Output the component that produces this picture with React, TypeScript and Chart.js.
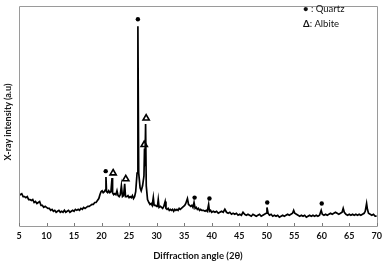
import React, { useEffect, useRef } from "react";
import { Chart, registerables } from "chart.js";

Chart.register(...registerables);

// 2θ angles (degrees)
const angles: number[] = [
  5.0, 5.25, 5.5, 5.75, 6.0, 6.25, 6.5, 6.75, 7.0, 7.25, 7.5, 7.75, 8.0, 8.25, 8.5, 8.75,
  9.0, 9.25, 9.5, 9.75, 10.0, 10.25, 10.5, 10.75, 11.0, 11.25, 11.5, 11.75, 12.0, 12.25, 12.5, 12.75,
  13.0, 13.25, 13.5, 13.75, 14.0, 14.25, 14.5, 14.75, 15.0, 15.25, 15.5, 15.75, 16.0, 16.25, 16.5, 16.75,
  17.0, 17.25, 17.5, 17.75, 18.0, 18.25, 18.5, 18.75, 19.0, 19.25, 19.5, 19.7, 19.9, 20.1, 20.3, 20.5,
  20.7, 20.8, 20.9, 21.1, 21.3, 21.5, 21.7, 21.9, 22.0, 22.2, 22.4, 22.6, 22.8, 23.0, 23.2, 23.4,
  23.6, 23.8, 24.0, 24.2, 24.35, 24.6, 24.8, 25.0, 25.2, 25.4, 25.6, 25.8, 26.0, 26.2, 26.45, 26.6,
  26.75, 27.0, 27.2, 27.45, 27.7, 27.8, 27.88, 28.0, 28.12, 28.35, 28.6, 28.8, 29.0, 29.2, 29.4, 29.55, 29.8,
  30.0, 30.15, 30.3, 30.45, 30.7, 30.9, 31.1, 31.3, 31.55, 31.7, 31.9, 32.1, 32.3, 32.5, 32.7, 32.9,
  33.1, 33.3, 33.5, 33.7, 33.9, 34.1, 34.3, 34.5, 34.7, 34.9, 35.1, 35.3, 35.6, 35.8, 36.0, 36.2,
  36.4, 36.6, 36.8, 37.0, 37.2, 37.4, 37.6, 37.8, 38.0, 38.2, 38.5, 38.8, 39.0, 39.2, 39.45, 39.6,
  39.8, 40.0, 40.3, 40.6, 40.9, 41.2, 41.5, 41.8, 42.1, 42.4, 42.7, 43.0, 43.3, 43.6, 43.9, 44.2,
  44.5, 44.8, 45.1, 45.4, 45.7, 46.0, 46.3, 46.6, 46.9, 47.2, 47.5, 47.8, 48.1, 48.4, 48.7, 49.0,
  49.3, 49.6, 49.9, 50.05, 50.25, 50.5, 50.8, 51.1, 51.4, 51.7, 52.0, 52.3, 52.6, 52.9, 53.2, 53.5,
  53.8, 54.1, 54.4, 54.7, 54.9, 55.1, 55.4, 55.7, 56.0, 56.3, 56.6, 56.9, 57.2, 57.5, 57.8, 58.1,
  58.4, 58.7, 59.0, 59.3, 59.6, 59.9, 60.1, 60.4, 60.7, 61.0, 61.3, 61.6, 61.9, 62.2, 62.5, 62.8,
  63.1, 63.4, 63.7, 63.9, 64.1, 64.4, 64.7, 65.0, 65.3, 65.6, 65.9, 66.2, 66.5, 66.8, 67.1, 67.4,
  67.7, 67.9, 68.15, 68.3, 68.5, 68.8, 69.1, 69.4, 69.7, 70.0,
];

// X-ray intensity (a.u.)
const intensity: number[] = [
  34, 33, 34, 31, 31, 30, 31, 28, 28, 27, 28, 25, 26, 24, 25, 26,
  22, 22, 20, 21, 20, 19, 19, 17, 18, 16, 17, 15, 16, 17, 15, 16,
  15, 17, 15, 16, 17, 15, 16, 17, 16, 18, 17, 18, 17, 19, 18, 20,
  19, 20, 21, 21, 22, 23, 23, 25, 25, 27, 29, 33, 36, 37, 35, 36,
  38, 51, 36, 35, 37, 35, 36, 50, 35, 33, 34, 33, 37, 32, 31, 33,
  42, 31, 32, 44, 31, 31, 32, 30, 31, 30, 32, 29, 31, 36, 55, 205,
  55, 40, 37, 42, 52, 80, 62, 105, 42, 28, 25, 23, 24, 22, 30, 22, 22,
  21, 21, 28, 20, 21, 20, 19, 21, 26, 19, 18, 19, 17, 18, 17, 18,
  16, 18, 17, 18, 17, 19, 18, 19, 20, 21, 22, 24, 29, 23, 22, 21,
  22, 20, 25, 19, 20, 18, 19, 17, 18, 17, 17, 16, 17, 16, 23, 16,
  17, 15, 16, 15, 16, 14, 15, 16, 15, 18, 15, 14, 15, 13, 14, 13,
  14, 12, 13, 12, 15, 13, 12, 13, 12, 11, 13, 12, 11, 12, 13, 11,
  12, 13, 14, 20, 14, 12, 13, 11, 12, 11, 12, 10, 11, 12, 11, 12,
  13, 12, 13, 14, 17, 14, 13, 12, 11, 12, 11, 12, 10, 11, 12, 11,
  12, 11, 12, 11, 12, 17, 13, 12, 13, 12, 13, 14, 13, 14, 15, 14,
  13, 14, 15, 19, 15, 13, 12, 13, 12, 13, 12, 13, 12, 13, 12, 13,
  14, 16, 24, 18, 14, 13, 12, 13, 11, 11,
];

// Phase markers
const quartzAngles: number[] = [20.75, 26.6, 36.9, 39.6, 50.1, 60.0];
const quartzLevels: number[] = [57, 212, 30, 29, 25, 24];
const albiteAngles: number[] = [22.1, 24.4, 27.75, 28.1];
const albiteLevels: number[] = [55, 49, 84, 111];

const xTicks: number[] = [5, 10, 15, 20, 25, 30, 35, 40, 45, 50, 55, 60, 65, 70];

const frameColor = "#9a9a9a";

const framePlugin = {
  id: "frame",
  afterDraw(chart: any) {
    const { ctx, chartArea } = chart;
    const { left, right, top, bottom } = chartArea;
    ctx.save();
    ctx.strokeStyle = frameColor;
    ctx.lineWidth = 1;
    ctx.beginPath();
    ctx.rect(Math.round(left) + 0.5, Math.round(top) + 0.5, Math.round(right - left), Math.round(bottom - top));
    ctx.stroke();
    // inside tick marks on x axis
    const xs = chart.scales.x;
    ctx.strokeStyle = "#7a7a7a";
    ctx.beginPath();
    xTicks.forEach((v) => {
      const px = Math.round(xs.getPixelForValue(v)) + 0.5;
      ctx.moveTo(px, bottom);
      ctx.lineTo(px, bottom - 3);
    });
    ctx.stroke();
    ctx.restore();
  },
};

export default function App() {
  const ref = useRef<HTMLCanvasElement | null>(null);

  useEffect(() => {
    if (!ref.current) return;
    const chart = new Chart(ref.current, {
      type: "scatter",
      data: {
        datasets: [
          {
            type: "line",
            data: angles.map((a, i) => ({ x: a, y: intensity[i] })),
            borderColor: "#000",
            borderWidth: 1.7,
            pointRadius: 0,
            tension: 0,
          } as any,
          {
            data: quartzAngles.map((a, i) => ({ x: a, y: quartzLevels[i] })),
            pointStyle: "circle",
            pointRadius: 2.2,
            backgroundColor: "#000",
            borderColor: "#000",
            borderWidth: 0,
          },
          {
            data: albiteAngles.map((a, i) => ({ x: a, y: albiteLevels[i] })),
            pointStyle: "triangle",
            pointRadius: 3.6,
            backgroundColor: "rgba(255,255,255,0)",
            borderColor: "#000",
            borderWidth: 1.6,
          },
        ],
      },
      options: {
        animation: false,
        responsive: false,
        layout: { padding: { top: 1, right: 6, left: 0, bottom: 0 } },
        plugins: { legend: { display: false }, tooltip: { enabled: false } },
        scales: {
          x: {
            type: "linear",
            min: 5,
            max: 70,
            afterFit: (s: any) => {
              s.height = 36;
            },
            afterBuildTicks: (s: any) => {
              s.ticks = xTicks.map((v) => ({ value: v }));
            },
            grid: { display: false, drawTicks: false },
            border: { display: false },
            ticks: {
              autoSkip: false,
              maxRotation: 0,
              padding: 5,
              color: "#111",
              font: { family: "Lato", size: 9, weight: "bold" },
            },
            title: {
              display: true,
              text: "Diffraction angle (2θ)",
              color: "#111",
              padding: { top: 0, bottom: 0 },
              font: { family: "Lato", size: 9.5, weight: "bold" },
            },
          },
          y: {
            min: 1,
            max: 226,
            afterFit: (s: any) => {
              s.width = 19;
            },
            grid: { display: false, drawTicks: false },
            border: { display: false },
            ticks: { display: false },
          },
        },
      },
      plugins: [framePlugin],
    } as any);
    return () => chart.destroy();
  }, []);

  return (
    <div style={{ position: "absolute", left: 0, top: 0, width: 387, height: 262, background: "#fff" }}>
      <canvas ref={ref} width={387} height={262} style={{ display: "block" }} />
      <div
        style={{
          position: "absolute",
          left: 8 - 60,
          top: 122 - 6,
          width: 120,
          height: 12,
          lineHeight: "12px",
          textAlign: "center",
          whiteSpace: "nowrap",
          transform: "rotate(-90deg)",
          transformOrigin: "center",
          fontFamily: "Lato",
          fontWeight: "bold",
          fontSize: 9,
          color: "#111",
        }}
      >
        X-ray intensity (a.u)
      </div>
      <div
        style={{
          position: "absolute",
          left: 303,
          top: 1,
          fontFamily: "Lato",
          fontSize: 9.5,
          lineHeight: "15px",
          color: "#111",
          whiteSpace: "nowrap",
        }}
      >
        <div>
          <span style={{ fontWeight: "bold" }}>•</span> : Quartz
        </div>
        <div>
          <span style={{ fontWeight: "bold" }}>Δ</span>: Albite
        </div>
      </div>
    </div>
  );
}
